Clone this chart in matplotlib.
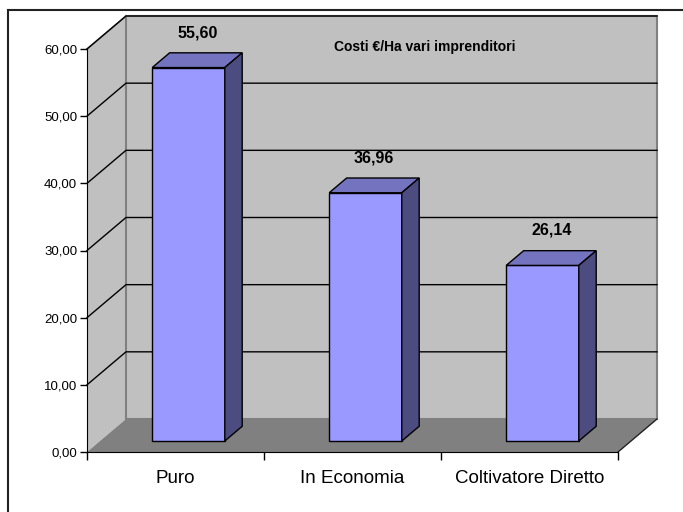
import matplotlib.pyplot as plt
from matplotlib.patches import Polygon, Rectangle

plt.rcParams['font.family'] = ['Liberation Sans', 'DejaVu Sans']

categories = ['Puro', 'In Economia', 'Coltivatore Diretto']
values = [55.60, 36.96, 26.14]
value_labels = ['55,60', '36,96', '26,14']
yticks = [0, 10, 20, 30, 40, 50, 60]
ytick_labels = ['0,00', '10,00', '20,00', '30,00', '40,00', '50,00', '60,00']
title = 'Costi €/Ha vari imprenditori'

W, H = 683, 512
fig = plt.figure(figsize=(W / 100, H / 100), dpi=100)
fig.patch.set_facecolor('white')

# front plane of the pseudo-3d box, in pixels
left, right, bottom, top = 87, 618, 452, 49
ax = fig.add_axes([left / W, 1 - bottom / H, (right - left) / W, (bottom - top) / H])
ax.set_xlim(-0.5, 2.5)
ax.set_ylim(0, 60)
ax.patch.set_visible(False)

# depth shift (px) for the full depth of the box
DX, DY = 39, 33
px_x = (right - left) / 3.0
px_y = (bottom - top) / 60.0


def proj(x, y, d):
    return (x + DX * d / px_x, y + DY * d / px_y)


kw = dict(clip_on=False)
# side wall
side = [proj(-0.5, 0, 0), proj(-0.5, 0, 1), proj(-0.5, 60, 1), proj(-0.5, 60, 0)]
ax.add_patch(Polygon(side, closed=True, fc='#c0c0c0', ec='none', zorder=0, **kw))
ax.plot(*zip(proj(-0.5, 60, 0), proj(-0.5, 60, 1)), color='#808080', lw=1.2, zorder=1, **kw)
# back wall
bx0, by0 = proj(-0.5, 0, 1)
bx1, by1 = proj(2.5, 60, 1)
ax.add_patch(Rectangle((bx0, by0), bx1 - bx0, by1 - by0, fc='#c0c0c0', ec='#808080',
                       lw=1.5, zorder=0, **kw))
# floor
floor = [proj(-0.5, 0, 0), proj(-0.5, 0, 1), proj(2.5, 0, 1), proj(2.5, 0, 0)]
ax.add_patch(Polygon(floor, closed=True, fc='#808080', ec='none', zorder=1, **kw))
ax.plot(*zip(proj(2.5, 0, 0), proj(2.5, 0, 1)), color='#222222', lw=1, zorder=2, **kw)

# gridlines on the back wall and the side wall
for v in yticks[1:]:
    ax.plot(*zip(proj(-0.5, v, 0), proj(-0.5, v, 1), proj(2.5, v, 1)),
            color='black', lw=1, zorder=1, **kw)

# bars
d1, d2 = 1 / 3, 0.78
bw = 0.41
for i, v in enumerate(values):
    fx, fy = proj(i, 0, d1)
    ax.bar(fx, v, bottom=fy, width=bw, color='#9999ff', edgecolor='black', lw=1, zorder=3)
    xl, xr = fx - bw / 2, fx + bw / 2
    ox, oy = proj(0, 0, d2 - d1)
    top_face = [(xl, fy + v), (xr, fy + v), (xr + ox, fy + v + oy), (xl + ox, fy + v + oy)]
    side_face = [(xr, fy), (xr + ox, fy + oy), (xr + ox, fy + v + oy), (xr, fy + v)]
    ax.add_patch(Polygon(top_face, closed=True, fc='#7373c0', ec='black', lw=1, zorder=3, **kw))
    ax.add_patch(Polygon(side_face, closed=True, fc='#4c4c80', ec='black', lw=1, zorder=3, **kw))
    ax.text(fx + ox / 2, fy + v + 5.2, value_labels[i], ha='center', va='center',
            fontsize=11.5, fontweight='bold', zorder=4)

# axes, ticks and labels
for s in ['top', 'right']:
    ax.spines[s].set_visible(False)
ax.spines['left'].set_zorder(5)
ax.spines['bottom'].set_zorder(5)
ax.set_yticks(yticks)
ax.set_yticklabels(ytick_labels, fontsize=9.5)
ax.tick_params(axis='y', direction='out', length=5, width=1, pad=2)
ax.set_xticks([-0.5, 0.5, 1.5, 2.5])
ax.set_xticklabels([])
ax.tick_params(axis='x', direction='out', length=6, width=1)
ax.set_xticks([0, 1, 2], minor=True)
ax.set_xticklabels(categories, minor=True, fontsize=13.5)
ax.tick_params(axis='x', which='minor', length=0, pad=13)

fig.text(425 / W, 1 - 47 / H, title, ha='center', va='center', fontsize=10, fontweight='bold')

# chart area frame
fig.add_artist(plt.Line2D([8 / W, 8 / W], [0, 1 - 10 / H], transform=fig.transFigure,
                          color='#222222', lw=1.5))
fig.add_artist(plt.Line2D([8 / W, 1], [1 - 10 / H, 1 - 10 / H], transform=fig.transFigure,
                          color='#222222', lw=1.5))

fig.savefig('out.png', dpi=100)
